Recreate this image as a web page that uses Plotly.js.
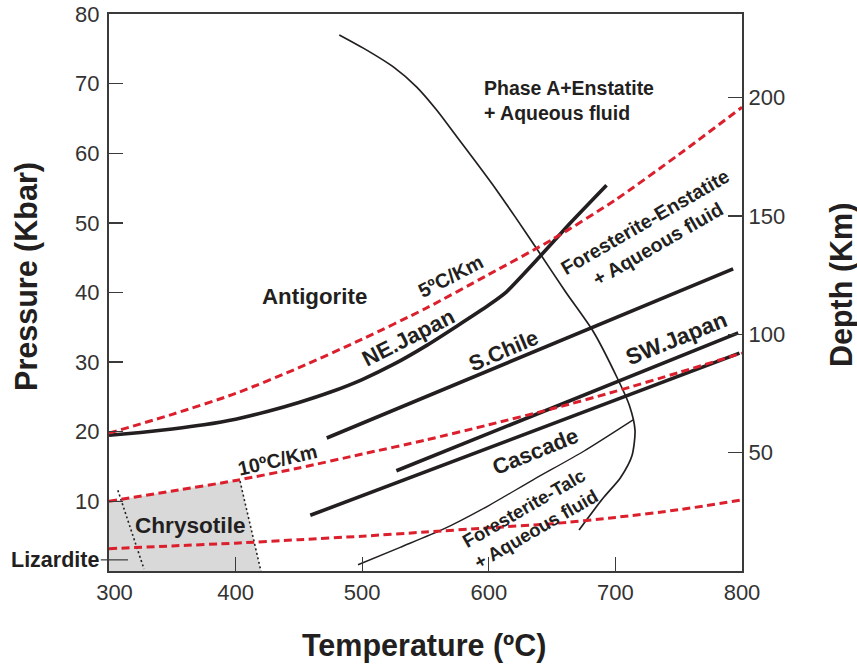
<!DOCTYPE html>
<html><head><meta charset="utf-8">
<script src="https://cdn.plot.ly/plotly-3.0.1.min.js"></script>
<style>html,body{margin:0;padding:0;background:#fff}#chart{width:857px;height:664px}</style>
</head><body><div id="chart"></div>
<script>
// ---- geotherms (temperature °C vs pressure kbar) ----
const geoT   = [300, 350, 400, 450, 500, 550, 600, 650, 700, 750, 800];
const geo5   = [19.8, 22.5, 25.5, 29.2, 33.3, 37.7, 42.6, 47.6, 53.3, 59.8, 66.6];
const geo10  = [10.0, 11.5, 13.0, 14.8, 16.8, 18.8, 21.0, 23.3, 25.8, 28.5, 31.3];
const geoLow = [3.2, 3.6, 4.0, 4.5, 5.0, 5.6, 6.2, 6.8, 7.7, 8.8, 10.2];

// ---- slab paths ----
const neJapanT = [300, 325, 350, 375, 400, 425, 450, 475, 500, 525, 550, 575, 600, 614, 640, 664, 693];
const neJapanP = [19.5, 19.9, 20.4, 21.0, 21.8, 22.9, 24.2, 25.7, 27.5, 29.7, 32.3, 35.2, 38.2, 40.1, 45.1, 49.9, 55.4];
const sChileT  = [472, 793];
const sChileP  = [19.1, 43.4];
const swJapanT = [527, 797];
const swJapanP = [14.4, 34.2];
const cascadeT = [459, 798];
const cascadeP = [8.0, 31.3];

// ---- reaction boundaries ----
const phaseAT = [481.9, 500.9, 524.6, 543.1, 558.8, 574.6, 590.4, 606.2, 620.7, 640.4, 661, 682.5, 701, 711, 715.5, 713, 704, 690, 671.3];
const phaseAP = [77.0, 75.1, 72.4, 69.5, 66.2, 62.4, 58.6, 54.7, 50.9, 45.6, 40.0, 34.4, 27.9, 23.8, 20.2, 16.5, 13.4, 10.4, 5.9];
const talcT   = [496.7, 530, 564, 600, 635, 675, 714];
const talcP   = [0.9, 3.4, 6.0, 9.4, 13.1, 17.2, 21.7];

// ---- chrysotile field ----
const chrLeftT  = [307, 327.6];
const chrLeftP  = [11.6, 0.3];
const chrRightT = [403.5, 420];
const chrRightP = [12.9, 0.0];
const chrFieldT = [300, 300, 350, 400, 403.5, 420, 300];
const chrFieldP = [0, 10.0, 11.5, 13.0, 13.1, 0, 0];

// ---- axes ----
const xTicks = [300, 400, 500, 600, 700, 800];
const xTickText = ['\u2002300', '400', '500', '600', '700', '800'];
const yTicks = [10, 20, 30, 40, 50, 60, 70, 80];
const depthTicks = [50, 100, 150, 200];
const kmPerKbar = 50 / 17;
const pRange = [0, 80];

const FONT = 'Liberation Sans, Arial, Helvetica, sans-serif';
const INK = '#231f20';
const AX = '#3a3a3a';
const RED = '#dc1f2c';

function line(x, y, w, dash, color, shape, smooth) {
  return {x: x, y: y, mode: 'lines', hoverinfo: 'skip', showlegend: false,
          line: {width: w, color: color || INK, dash: dash || 'solid', shape: shape || 'linear',
                 smoothing: smooth === undefined ? 0.7 : smooth}};
}

const traces = [
  {x: chrFieldT, y: chrFieldP, mode: 'lines', fill: 'toself', fillcolor: '#d9d9d9',
   line: {width: 0, color: 'rgba(0,0,0,0)'}, hoverinfo: 'skip', showlegend: false},
  line(chrLeftT, chrLeftP, 1.6, '2px,2.6px'),
  line(chrRightT, chrRightP, 1.6, '2px,2.6px'),
  line(phaseAT, phaseAP, 1.7, 'solid', INK, 'spline'),
  line(talcT, talcP, 1.4, 'solid', INK, 'spline'),
  line(neJapanT, neJapanP, 3.6, 'solid', INK, 'spline', 0.5),
  line(sChileT, sChileP, 3.6),
  line(swJapanT, swJapanP, 3.6),
  line(cascadeT, cascadeP, 3.6),
  line(geoT, geo5, 3, '8px,4.5px', RED, 'spline'),
  line(geoT, geo10, 3, '8px,4.5px', RED, 'spline'),
  line(geoT, geoLow, 3, '8px,4.5px', RED, 'spline'),
  {x: [null], y: [null], yaxis: 'y2', mode: 'lines', hoverinfo: 'skip', showlegend: false}
];

function lab(text, x, y, angle, size, extra) {
  return Object.assign({text: '<b>' + text + '</b>', x: x, y: y, xref: 'x', yref: 'y', showarrow: false,
    xanchor: 'center', yanchor: 'middle',
    textangle: angle || 0, font: {family: FONT, size: size || 19, color: INK}}, extra || {});
}

const annotations = [
  lab('Antigorite', 462.7, 39.4, 0, 22.3),
  lab('Phase A+Enstatite<br>+ Aqueous fluid', 595.0, 67.6, 0, 19.5, {xanchor: 'left', align: 'left'}),
  lab('5ºC/Km', 570.1, 42.3, -27, 19.8),
  lab('NE.Japan', 536.5, 33.6, -27, 22),
  lab('S.Chile', 611.5, 31.6, -23, 21.6),
  lab('SW.Japan', 748.5, 33.4, -22, 22.6),
  lab('Cascade', 636.5, 17.2, -22, 22),
  lab('10ºC/Km', 432.7, 16.0, -13, 19.8),
  lab('Chrysotile', 364, 6.6, 0, 22.6),
  lab('Foresterite-Enstatite<br>+ Aqueous fluid', 728.5, 48.6, -30, 19.6),
  lab('Foresterite-Talc<br>+ Aqueous fluid', 632.5, 7.6, -30, 18.6),
  {text: '<b>Lizardite</b>', x: -0.012, y: 1.6, xref: 'paper', yref: 'y', xanchor: 'right', yanchor: 'middle',
   showarrow: false, font: {family: FONT, size: 21.5, color: INK}},
  {text: '<b>Pressure (Kbar)</b>', x: -0.1295, y: 0.528, xref: 'paper', yref: 'paper', textangle: -90,
   xanchor: 'center', yanchor: 'middle', showarrow: false, font: {family: FONT, size: 30.5, color: INK}},
  {text: '<b>Depth (Km)</b>', x: 1.158, y: 0.5135, xref: 'paper', yref: 'paper', textangle: -90,
   xanchor: 'center', yanchor: 'middle', showarrow: false, font: {family: FONT, size: 30.5, color: INK}},
  {text: '<b>Temperature (ºC)</b>', x: 0.4976, y: -0.1329, xref: 'paper', yref: 'paper',
   xanchor: 'center', yanchor: 'middle', showarrow: false, font: {family: FONT, size: 30.5, color: INK}}
];

const shapes = [
  {type: 'line', xref: 'paper', yref: 'y', x0: -0.013, x1: 0.03, y0: 1.6, y1: 1.6, line: {color: AX, width: 1.2}}
];

const axisCommon = {
  showgrid: false, zeroline: false, showline: true, linecolor: AX, linewidth: 2.2,
  ticks: 'inside', ticklen: 14, tickwidth: 1.3, tickcolor: AX,
  tickfont: {family: FONT, size: 22, color: '#333'}
};

const layout = {
  width: 857, height: 664,
  margin: {l: 109, r: 115, t: 14, b: 93},
  paper_bgcolor: '#fff', plot_bgcolor: '#fff',
  showlegend: false,
  xaxis: Object.assign({}, axisCommon, {range: [300, 800], tickvals: xTicks, ticktext: xTickText, mirror: true,
    ticklabelstandoff: 0}),
  yaxis: Object.assign({}, axisCommon, {range: pRange, tickvals: yTicks, mirror: true, ticklabelstandoff: 3}),
  yaxis2: Object.assign({}, axisCommon, {overlaying: 'y', side: 'right',
    range: [pRange[0] * kmPerKbar, pRange[1] * kmPerKbar], tickvals: depthTicks, ticklabelstandoff: 0}),
  annotations: annotations,
  shapes: shapes
};

Plotly.newPlot('chart', traces, layout, {staticPlot: true, displayModeBar: false});
</script>
</body></html>
